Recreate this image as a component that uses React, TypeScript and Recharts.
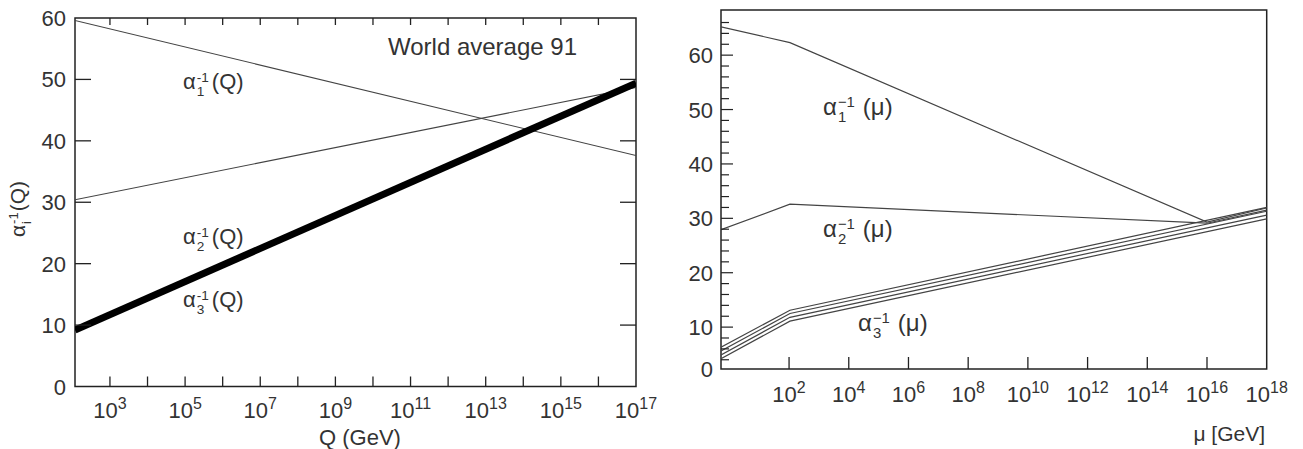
import React from "react"
import { LineChart, Line, XAxis, YAxis, ReferenceArea } from "recharts"

// left panel: one-loop running, world average 91
const qExp = [2.07, 17]
const alpha1Q = [59.6, 37.6]
const alpha2Q = [30.4, 48.7]
const alpha3Q = [9.2, 49.4]
const qTicks = [3, 4, 5, 6, 7, 8, 9, 10, 11, 12, 13, 14, 15, 16, 17]
const qLabels = [3, 5, 7, 9, 11, 13, 15, 17]
const leftYTicks = [0, 10, 20, 30, 40, 50, 60]

// right panel: MSSM running
const muExp = [-0.28, 2.03, 16, 18]
const alpha1Mu = [65.2, 62.3, 29.3, 31.9]
const alpha2Mu = [27.9, 32.6, 29.1, 31.5]
const muExp3 = [-0.28, 2.03, 18]
const alpha3MuA = [6.3, 13.1, 32.0]
const alpha3MuB = [5.6, 12.5, 31.3]
const alpha3MuC = [4.9, 11.8, 30.6]
const alpha3MuD = [4.2, 11.1, 29.9]
const muTicks = [2, 4, 6, 8, 10, 12, 14, 16, 18]
const rightYBottom = 2.3
const rightYTop = 68.3
const rightYTicks = [2.3, 4, 6, 8, 10, 12, 14, 16, 18, 20, 22, 24, 26, 28, 30, 32, 34, 36, 38, 40, 42, 44, 46, 48, 50, 52, 54, 56, 58, 60, 62, 64, 66]

const FONT = "'Liberation Sans', Arial, sans-serif"
const TXT = "#333"
const INK = "#222"

// left plot box (px), used for the mirrored ticks on top / right
const L_TOP = 18
const L_RIGHT = 636

const leftData = qExp.map((x, i) => ({ x, a1: alpha1Q[i], a2: alpha2Q[i], a3: alpha3Q[i] }))
const toRows = (xs: number[], ys: number[]) => xs.map((x, i) => ({ x, y: ys[i] }))

const QTick = (props: any) => {
  const { x, y, payload } = props
  const v = payload.value
  return (
    <g>
      {v < 17 && <line x1={x} x2={x} y1={y} y2={y - 10} stroke={INK} strokeWidth={1.3} />}
      {v < 17 && <line x1={x} x2={x} y1={L_TOP} y2={L_TOP + 7} stroke={INK} strokeWidth={1.3} />}
      {qLabels.includes(v) && (
        <text x={x} y={y + 31} textAnchor="middle" fontSize={22} fill={TXT} fontFamily={FONT}>
          <tspan>10</tspan>
          <tspan dy={-9} fontSize={16}>{v}</tspan>
        </text>
      )}
    </g>
  )
}

const LeftYTick = (props: any) => {
  const { x, y, payload } = props
  const inner = payload.value > 0 && payload.value < 60
  return (
    <g>
      {inner && <line x1={x} x2={x + 16} y1={y} y2={y} stroke={INK} strokeWidth={1.3} />}
      {inner && <line x1={L_RIGHT} x2={L_RIGHT - 16} y1={y} y2={y} stroke={INK} strokeWidth={1.3} />}
      <text x={x - 9} y={y + 8} textAnchor="end" fontSize={22} fill={TXT} fontFamily={FONT}>
        {payload.value}
      </text>
    </g>
  )
}

const MuTick = (props: any) => {
  const { x, y, payload } = props
  const v = payload.value
  return (
    <g>
      {v < 18 && <line x1={x} x2={x} y1={y} y2={y - 12} stroke={INK} strokeWidth={1.3} />}
      <text x={x} y={y + 33} textAnchor="middle" fontSize={22} fill={TXT} fontFamily={FONT}>
        <tspan>10</tspan>
        <tspan dy={-9} fontSize={16}>{v}</tspan>
      </text>
    </g>
  )
}

const MuYTick = (props: any) => {
  const { x, y, payload } = props
  const v = payload.value
  if (v === rightYBottom) {
    return (
      <text x={x - 8} y={y + 8} textAnchor="end" fontSize={22} fill={TXT} fontFamily={FONT}>0</text>
    )
  }
  const major = v % 10 === 0
  return (
    <g>
      <line x1={x} x2={x + (major ? 12 : 8)} y1={y} y2={y} stroke={INK} strokeWidth={1.2} />
      {major && (
        <text x={x - 8} y={y + 8} textAnchor="end" fontSize={22} fill={TXT} fontFamily={FONT}>{v}</text>
      )}
    </g>
  )
}

function Alpha({ sub, arg, size, minus, gap }: { sub: string; arg: string; size: number; minus?: boolean; gap: number }) {
  return (
    <span style={{ display: "inline-flex", alignItems: "center", fontSize: size, whiteSpace: "nowrap", lineHeight: 1 }}>
      <span>α</span>
      <span
        style={{
          display: "inline-flex",
          flexDirection: "column",
          fontSize: size * 0.62,
          lineHeight: 1,
          marginLeft: 1,
          marginTop: 5,
        }}
      >
        <span>{minus ? "−1" : "-1"}</span>
        <span>{sub}</span>
      </span>
      <span style={{ marginLeft: gap }}>{arg}</span>
    </span>
  )
}

const note = (left: number, cy: number, size: number): React.CSSProperties => ({
  position: "absolute",
  left,
  top: cy,
  transform: "translateY(-50%)",
  fontSize: size,
  color: TXT,
  fontFamily: FONT,
  whiteSpace: "nowrap",
  lineHeight: 1,
})

export default function App() {
  return (
    <div style={{ position: "absolute", left: 0, top: 0, width: 1303, height: 449, background: "#fff", fontFamily: FONT }}>
      <div style={{ position: "absolute", left: 0, top: 0 }}>
        <LineChart width={660} height={449} data={leftData} margin={{ top: L_TOP, right: 660 - L_RIGHT, bottom: 0, left: 0 }}>
          <XAxis
            dataKey="x"
            type="number"
            domain={[2.07, 17]}
            ticks={qTicks}
            interval={0}
            height={62.5}
            tickSize={0}
            tickMargin={0}
            tickLine={false}
            tick={QTick}
            axisLine={false}
            allowDataOverflow
          />
          <YAxis
            type="number"
            domain={[0, 60]}
            ticks={leftYTicks}
            interval={0}
            width={75}
            tickSize={0}
            tickMargin={0}
            tickLine={false}
            tick={LeftYTick}
            axisLine={false}
            allowDataOverflow
          />
          <ReferenceArea x1={2.07} x2={17} y1={0} y2={60} fill="none" fillOpacity={0} stroke={INK} strokeWidth={1.5} />
          <Line dataKey="a1" type="linear" stroke="#444" strokeWidth={1.1} dot={false} isAnimationActive={false} />
          <Line dataKey="a2" type="linear" stroke="#444" strokeWidth={1.1} dot={false} isAnimationActive={false} />
          <Line dataKey="a3" type="linear" stroke="#000" strokeWidth={7} dot={false} isAnimationActive={false} />
        </LineChart>
      </div>

      <div style={{ position: "absolute", left: 660, top: 0 }}>
        <LineChart width={643} height={449} margin={{ top: 10, right: 36.3, bottom: 0, left: 0 }}>
          <XAxis
            dataKey="x"
            type="number"
            domain={[-0.28, 18]}
            ticks={muTicks}
            interval={0}
            height={80}
            tickSize={0}
            tickMargin={0}
            tickLine={false}
            tick={MuTick}
            axisLine={false}
            allowDataOverflow
          />
          <YAxis
            type="number"
            domain={[rightYBottom, rightYTop]}
            ticks={rightYTicks}
            interval={0}
            width={61}
            tickSize={0}
            tickMargin={0}
            tickLine={false}
            tick={MuYTick}
            axisLine={false}
            allowDataOverflow
          />
          <ReferenceArea x1={-0.28} x2={18} y1={rightYBottom} y2={rightYTop} fill="none" fillOpacity={0} stroke={INK} strokeWidth={1.5} />
          <Line data={toRows(muExp, alpha1Mu)} dataKey="y" type="linear" stroke="#444" strokeWidth={1.2} dot={false} isAnimationActive={false} />
          <Line data={toRows(muExp, alpha2Mu)} dataKey="y" type="linear" stroke="#444" strokeWidth={1.2} dot={false} isAnimationActive={false} />
          <Line data={toRows(muExp3, alpha3MuA)} dataKey="y" type="linear" stroke="#444" strokeWidth={1.2} dot={false} isAnimationActive={false} />
          <Line data={toRows(muExp3, alpha3MuB)} dataKey="y" type="linear" stroke="#444" strokeWidth={1.2} dot={false} isAnimationActive={false} />
          <Line data={toRows(muExp3, alpha3MuC)} dataKey="y" type="linear" stroke="#444" strokeWidth={1.2} dot={false} isAnimationActive={false} />
          <Line data={toRows(muExp3, alpha3MuD)} dataKey="y" type="linear" stroke="#444" strokeWidth={1.2} dot={false} isAnimationActive={false} />
        </LineChart>
      </div>

      {/* left panel annotations */}
      <div style={note(388, 47, 24)}>World average 91</div>
      <div style={note(183, 82, 22)}><Alpha sub="1" arg="(Q)" size={22} gap={3} /></div>
      <div style={note(183, 237, 22)}><Alpha sub="2" arg="(Q)" size={22} gap={3} /></div>
      <div style={note(183, 300, 22)}><Alpha sub="3" arg="(Q)" size={22} gap={3} /></div>
      <div
        style={{
          ...note(18, 209, 21),
          transform: "translate(-50%, -50%) rotate(-90deg)",
        }}
      >
        <Alpha sub="i" arg="(Q)" size={21} gap={1} />
      </div>
      <div style={{ ...note(360, 438, 22), transform: "translate(-50%, -50%)" }}>Q (GeV)</div>

      {/* right panel annotations */}
      <div style={note(823, 107, 24)}><Alpha sub="1" arg="(μ)" size={24} minus gap={8} /></div>
      <div style={note(823, 229, 24)}><Alpha sub="2" arg="(μ)" size={24} minus gap={8} /></div>
      <div style={note(858, 323, 24)}><Alpha sub="3" arg="(μ)" size={24} minus gap={8} /></div>
      <div style={{ ...note(1265, 433, 21), transform: "translate(-100%, -50%)" }}>μ [GeV]</div>
    </div>
  )
}
